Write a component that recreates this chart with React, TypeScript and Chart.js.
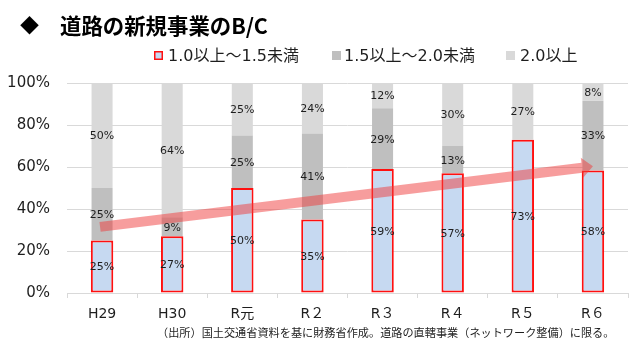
import React, { useEffect, useRef } from "react";
import { Chart, registerables } from "chart.js";

Chart.register(...registerables);

const titleMark = "◆";
const titleText = "道路の新規事業のB/C";
const categories = ["H29", "H30", "R元", "R２", "R３", "R４", "R５", "R６"];
const seriesNames = ["1.0以上～1.5未満", "1.5以上～2.0未満", "2.0以上"];
const bc10to15 = [25, 27, 50, 35, 59, 57, 73, 58.3];
const bc15to20 = [25, 9, 25, 41, 29, 13, 0, 33.3];
const bc20plus = [50, 64, 25, 24, 12, 30, 27, 8.4];
const yTickValues = [0, 20, 40, 60, 80, 100];
const trendIndex = [0, 7];
const trendValue = [31.5, 60.3];
const footnote = "（出所）国土交通省資料を基に財務省作成。道路の直轄事業（ネットワーク整備）に限る。";

const LATIN = "'DejaVu Sans', 'Noto Sans CJK JP', sans-serif";
const CJK = "'Noto Sans CJK JP', 'DejaVu Sans', sans-serif";
const TEXT = "#1e1e1e";

function fitFont(ctx: CanvasRenderingContext2D, text: string, weight: string, family: string, target: number, base: number) {
  ctx.font = `${weight} ${base}px ${family}`;
  const w = ctx.measureText(text).width;
  const size = (base * target) / w;
  ctx.font = `${weight} ${size.toFixed(2)}px ${family}`;
}

const arrowPlugin = {
  id: "trendArrow",
  afterDatasetsDraw(chart: any) {
    const { ctx, scales } = chart;
    const x0 = scales.x.getPixelForValue(trendIndex[0]) - 2;
    const y0 = scales.y.getPixelForValue(trendValue[0]);
    const x1 = scales.x.getPixelForValue(trendIndex[1]);
    const y1 = scales.y.getPixelForValue(trendValue[1]);
    const ang = Math.atan2(y1 - y0, x1 - x0);
    const len = Math.hypot(x1 - x0, y1 - y0);
    const headLen = 11;
    const headHalf = 10;
    const shaftHalf = 5;
    ctx.save();
    ctx.translate(x0, y0);
    ctx.rotate(ang);
    ctx.fillStyle = "rgba(240, 60, 60, 0.5)";
    ctx.beginPath();
    ctx.moveTo(0, -shaftHalf);
    ctx.lineTo(len - headLen, -shaftHalf);
    ctx.lineTo(len - headLen, -headHalf);
    ctx.lineTo(len, 0);
    ctx.lineTo(len - headLen, headHalf);
    ctx.lineTo(len - headLen, shaftHalf);
    ctx.lineTo(0, shaftHalf);
    ctx.closePath();
    ctx.fill();
    ctx.restore();

    // data labels
    ctx.save();
    ctx.font = `11px ${LATIN}`;
    ctx.fillStyle = TEXT;
    ctx.textAlign = "center";
    ctx.textBaseline = "middle";
    chart.data.datasets.forEach((ds: any, di: number) => {
      const meta = chart.getDatasetMeta(di);
      meta.data.forEach((el: any, i: number) => {
        const v = ds.data[i];
        if (!v) return;
        ctx.fillText(Math.round(v) + "%", el.x, (el.y + el.base) / 2 + 1);
      });
    });
    ctx.restore();
  },
};

const decorPlugin = {
  id: "decor",
  afterDraw(chart: any) {
    const { ctx } = chart;
    ctx.save();
    // title
    ctx.fillStyle = "#000";
    ctx.textBaseline = "middle";
    ctx.textAlign = "left";
    ctx.font = `bold 19px ${CJK}`;
    ctx.fillText(titleMark, 20, 26);
    fitFont(ctx, titleText, "bold", CJK, 208, 20);
    ctx.fillText(titleText, 60, 26);

    // legend
    const colors = chart.data.datasets.map((d: any) => d.backgroundColor);
    const borders = chart.data.datasets.map((d: any) => (d.borderWidth ? d.borderColor : null));
    const boxX = [154, 332, 506];
    const textX = [168, 344, 520];
    ctx.font = `16px ${LATIN}`;
    seriesNames.forEach((name, i) => {
      ctx.fillStyle = colors[i];
      ctx.fillRect(boxX[i], 51, 9, 9);
      if (borders[i]) {
        ctx.strokeStyle = borders[i];
        ctx.lineWidth = 1.5;
        ctx.strokeRect(boxX[i] + 0.75, 51.75, 7.5, 7.5);
      }
      ctx.fillStyle = TEXT;
      ctx.fillText(name, textX[i], 57);
    });

    // footnote
    fitFont(ctx, footnote, "normal", CJK, 458, 11.5);
    ctx.fillStyle = TEXT;
    ctx.fillText(footnote, 157, 333);
    ctx.restore();
  },
};

export default function App() {
  const ref = useRef<HTMLCanvasElement>(null);
  useEffect(() => {
    const canvas = ref.current;
    if (!canvas) return;
    const chart = new Chart(canvas, {
      type: "bar",
      data: {
        labels: categories,
        datasets: [
          {
            label: seriesNames[0],
            data: bc10to15,
            backgroundColor: "#c6d9f1",
            borderColor: "#ff1010",
            borderWidth: 2,
            borderSkipped: false,
            barPercentage: 0.32,
          },
          {
            label: seriesNames[1],
            data: bc15to20,
            backgroundColor: "#bfbfbf",
            borderWidth: 0,
            barPercentage: 0.3,
          },
          {
            label: seriesNames[2],
            data: bc20plus,
            backgroundColor: "#d9d9d9",
            borderWidth: 0,
            barPercentage: 0.3,
          },
        ],
      },
      options: {
        animation: false,
        responsive: false,
        maintainAspectRatio: false,
        layout: { padding: { top: 83, right: 12, bottom: 29, left: 0 } },
        plugins: { legend: { display: false }, tooltip: { enabled: false }, title: { display: false } },
        datasets: { bar: { categoryPercentage: 1 } },
        scales: {
          x: {
            stacked: true,
            grid: {
              display: true,
              drawOnChartArea: false,
              drawTicks: true,
              tickLength: 5,
              color: "#d9d9d9",
              offset: true,
            },
            border: { color: "#d9d9d9" },
            ticks: { font: { size: 14, family: LATIN }, color: TEXT, padding: 8 },
            afterFit: (s: any) => {
              s.height = 40;
            },
          },
          y: {
            stacked: true,
            min: 0,
            max: 100,
            afterBuildTicks: (s: any) => {
              s.ticks = yTickValues.map((v) => ({ value: v }));
            },
            ticks: {
              callback: (v: any) => v + "%",
              padding: 17,
              font: { size: 15, family: LATIN },
              color: TEXT,
            },
            grid: { color: "#d9d9d9", drawTicks: false },
            border: { display: false },
            afterFit: (s: any) => {
              s.width = 67;
            },
          },
        },
      },
      plugins: [arrowPlugin, decorPlugin],
    });
    return () => chart.destroy();
  }, []);
  return (
    <div style={{ position: "fixed", left: 0, top: 0, width: 640, height: 362, background: "#fff" }}>
      <canvas ref={ref} width={640} height={362} style={{ display: "block", width: 640, height: 362 }} />
    </div>
  );
}
